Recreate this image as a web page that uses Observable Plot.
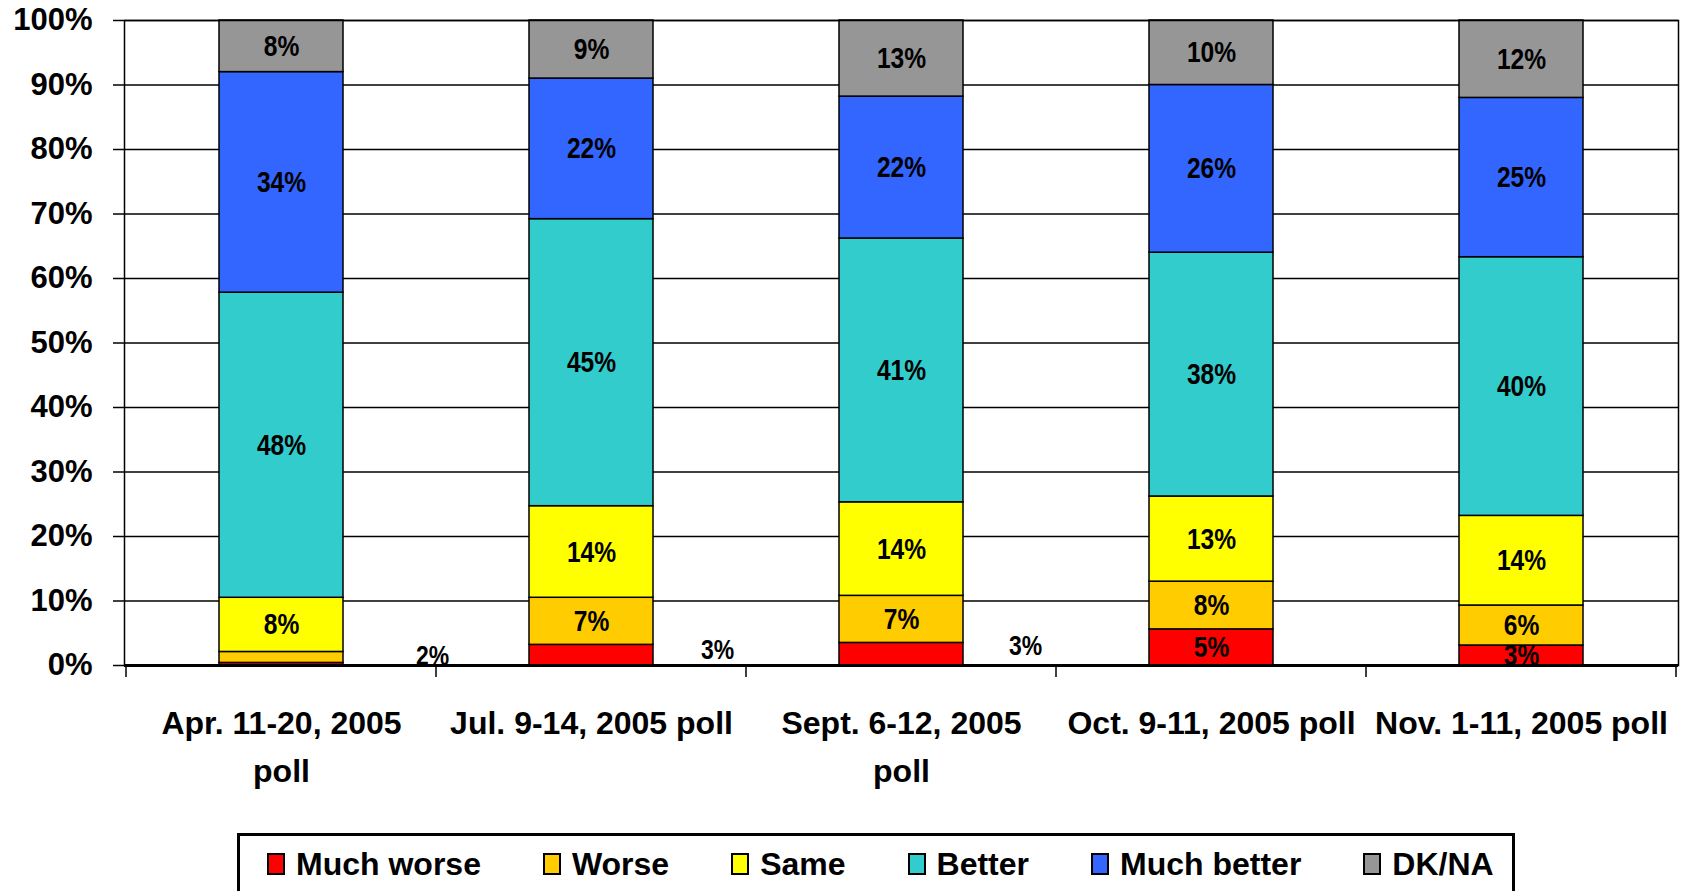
<!DOCTYPE html>
<html><head><meta charset="utf-8">
<script src="https://cdn.jsdelivr.net/npm/d3@7"></script>
<script src="https://cdn.jsdelivr.net/npm/@observablehq/plot@0.6"></script>
<style>
html,body{margin:0;padding:0;background:#fff;overflow:hidden;}
body{font-family:"Liberation Sans",Arial,sans-serif;font-weight:bold;color:#000;}
#legend{box-sizing:border-box;margin-left:237px;width:1278px;height:80px;border:3px solid #000;display:flex;align-items:flex-start;padding:8px 0 0 27px;}
#legend .item{display:flex;align-items:center;margin-right:62px;font-size:32px;line-height:40px;}
#legend .item:last-child{margin-right:0;}
#legend .sw{box-sizing:border-box;width:18px;height:22px;border:2px solid #000;margin-right:11px;}
</style></head><body>
<div id="chart"></div>
<div id="legend"></div>
<script>
// ---- data ----
const polls = ["Apr. 11-20, 2005\npoll", "Jul. 9-14, 2005 poll", "Sept. 6-12, 2005\npoll", "Oct. 9-11, 2005 poll", "Nov. 1-11, 2005 poll"];
const series = ["Much worse", "Worse", "Same", "Better", "Much better", "DK/NA"];
const colors = ["#FF0000", "#FFCC00", "#FFFF00", "#33CCCC", "#3366FF", "#969696"];
// segment heights as drawn (percent of bar)
const muchWorse  = [0.4, 3.2, 3.5, 5.6, 3.1];
const worse      = [1.7, 7.3, 7.3, 7.4, 6.2];
const same       = [8.4, 14.2, 14.5, 13.2, 13.9];
const better     = [47.3, 44.5, 40.9, 37.8, 40.1];
const muchBetter = [34.2, 21.8, 22.0, 26.0, 24.7];
const dkna       = [8.0, 9.0, 11.8, 10.0, 12.0];
// printed data labels
const muchWorseLabels  = [null, "3%", "3%", "5%", "3%"];
const worseLabels      = ["2%", "7%", "7%", "8%", "6%"];
const sameLabels       = ["8%", "14%", "14%", "13%", "14%"];
const betterLabels     = ["48%", "45%", "41%", "38%", "40%"];
const muchBetterLabels = ["34%", "22%", "22%", "26%", "25%"];
const dknaLabels       = ["8%", "9%", "13%", "10%", "12%"];
const yTicks = [0, 10, 20, 30, 40, 50, 60, 70, 80, 90, 100];
// labels that sit beside their bar instead of inside the segment
const outsideLabels = [{poll: 0, series: "Worse"}, {poll: 1, series: "Much worse"}, {poll: 2, series: "Much worse"}];

// ---- layout ----
const outsideOffsets = [[151, -1], [126, -5], [124, -8]];
const W = 1687, H = 833;

const valuesBySeries = [muchWorse, worse, same, better, muchBetter, dkna];
const labelsBySeries = [muchWorseLabels, worseLabels, sameLabels, betterLabels, muchBetterLabels, dknaLabels];
const rows = [];
series.forEach((s, si) => polls.forEach((p, pi) => rows.push({poll: p, series: s, value: valuesBySeries[si][pi], label: labelsBySeries[si][pi] || "", pi})));
const isOutside = d => outsideLabels.some(o => o.poll === d.pi && o.series === d.series);

const stackOpts = {x: "poll", y: "value", z: "series", order: series};
const labelFont = {fontFamily: "'Liberation Sans',Arial,sans-serif", fontWeight: "bold", fill: "black", className: "seglabel"};

const plot = Plot.plot({
  width: W, height: H,
  marginLeft: 124, marginRight: 9, marginTop: 20, marginBottom: H - 665,
  style: {fontFamily: "'Liberation Sans',Arial,sans-serif", fontWeight: "bold", color: "black", background: "white"},
  x: {domain: polls, paddingInner: 0.6, paddingOuter: 0.3, label: null},
  y: {domain: [0, 100], label: null},
  color: {domain: series, range: colors},
  marks: [
    Plot.ruleY(yTicks, {stroke: "black", strokeWidth: 1.5}),
    Plot.barY(rows, {...stackOpts, fill: "series", stroke: "black", strokeWidth: 1.5}),
    Plot.text(rows, Plot.stackY({...stackOpts, text: d => isOutside(d) ? "" : d.label, fontSize: 30, ...labelFont})),
    ...outsideLabels.map((o, i) => Plot.text(rows, Plot.stackY({...stackOpts,
      text: d => (d.pi === o.poll && d.series === o.series) ? d.label : "",
      dx: outsideOffsets[i][0], dy: outsideOffsets[i][1], fontSize: 28, ...labelFont}))),
    Plot.frame({stroke: "black", strokeWidth: 1.5}),
    Plot.ruleY([0], {stroke: "black", strokeWidth: 3}),
    Plot.axisY({ticks: yTicks, tickFormat: d => d + "%", tickSize: 11, tickPadding: 21, fontSize: 31, fontWeight: "bold", strokeWidth: 1.5}),
    Plot.axisX({tickSize: 0, tickPadding: 34, fontSize: 32, fontWeight: "bold", lineHeight: 1.5})
  ]
});
document.getElementById("chart").appendChild(plot);

// condensed look of the segment labels
d3.select(plot).selectAll(".seglabel text").each(function() {
  const t = this.getAttribute("transform") || "";
  this.setAttribute("transform", t + " scale(0.82,1)");
});

// category boundary ticks, from the library's x scale
const xs = plot.scale("x");
const half = (xs.step - xs.bandwidth) / 2;
const bounds = polls.map(p => xs.apply(p) - half).concat([xs.apply(polls[polls.length - 1]) + xs.bandwidth + half]);
const ys = plot.scale("y");
d3.select(plot).append("g").selectAll("line").data(bounds).join("line")
  .attr("x1", d => d).attr("x2", d => d)
  .attr("y1", ys.apply(0)).attr("y2", ys.apply(0) + 12)
  .attr("stroke", "black").attr("stroke-width", 1.5);

// legend
const lg = d3.select("#legend");
series.forEach((s, i) => {
  const it = lg.append("div").attr("class", "item");
  it.append("div").attr("class", "sw").style("background", colors[i]);
  it.append("span").text(s);
});
</script>
</body></html>
